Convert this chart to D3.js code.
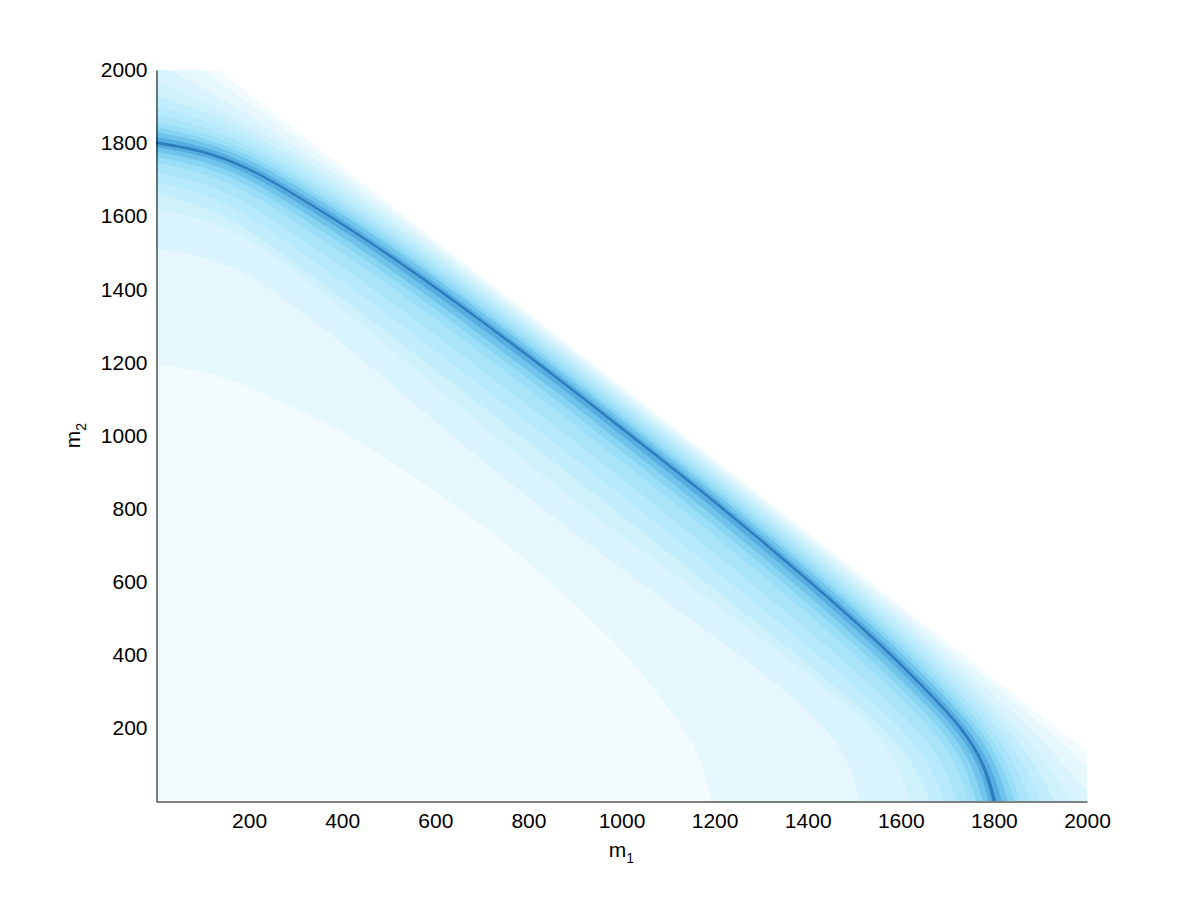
<!DOCTYPE html>
<html><head><meta charset="utf-8">
<script src="https://cdn.jsdelivr.net/npm/d3@7"></script>
<style>body{margin:0;background:#fff} svg{display:block}</style>
</head><body>
<svg id="chart" width="1200" height="900"></svg>
<script>
// tick labels
const xTickValues = [200,400,600,800,1000,1200,1400,1600,1800,2000];
const yTickValues = [200,400,600,800,1000,1200,1400,1600,1800,2000];

// fill colour of each contour level (0 = lowest)
const levelColors = ["#f2fbfe","#e6f8fe","#daf4fd","#cef1fc","#c2edfc","#b6e9fb",
                     "#a9e4f9","#9bdef7","#88d4f3","#70c4ec","#56ade0","#2f7dbb"];

// edge of the defined region (m1 + m2 limit)
const cutoffBoundary = [[0,0],[0,2000],[135,2000],[2000,135],[2000,0]];

// lower-left boundary of each level (levels 1..11), [m1, m2]
const innerBoundaries = [
  [[0,1193],[100,1178],[200,1135],[300,1073],[417,1002],[550,889],[732,732],[889,550],[1002,417],[1073,300],[1135,200],[1178,100],[1193,0]],
  [[0,1510],[100,1494],[200,1442],[300,1352],[417,1236],[550,1091],[700,931],[815,815],[931,700],[1091,550],[1236,417],[1352,300],[1442,200],[1494,100],[1510,0]],
  [[0,1617],[100,1597],[200,1540],[300,1447],[417,1331],[550,1189],[700,1028],[860,860],[1028,700],[1189,550],[1331,417],[1447,300],[1540,200],[1597,100],[1617,0]],
  [[0,1663],[100,1631],[200,1565],[300,1470],[417,1360],[550,1229],[700,1081],[850,932],[891,891],[932,850],[1081,700],[1229,550],[1360,417],[1470,300],[1565,200],[1631,100],[1663,0]],
  [[0,1694],[100,1665],[200,1603],[300,1512],[417,1407],[550,1280],[700,1134],[850,986],[918,918],[986,850],[1134,700],[1280,550],[1407,417],[1512,300],[1603,200],[1665,100],[1694,0]],
  [[0,1721],[100,1694],[200,1636],[300,1549],[417,1448],[550,1323],[700,1179],[850,1033],[942,942],[1033,850],[1179,700],[1323,550],[1448,417],[1549,300],[1636,200],[1694,100],[1721,0]],
  [[0,1746],[100,1722],[200,1667],[300,1584],[417,1487],[550,1366],[700,1224],[850,1079],[964,964],[1079,850],[1224,700],[1366,550],[1487,417],[1584,300],[1667,200],[1722,100],[1746,0]],
  [[0,1762],[100,1739],[200,1686],[300,1606],[417,1511],[550,1392],[700,1251],[850,1107],[978,978],[1107,850],[1251,700],[1392,550],[1511,417],[1606,300],[1686,200],[1739,100],[1762,0]],
  [[0,1776],[100,1754],[200,1703],[300,1624],[417,1530],[550,1413],[700,1273],[850,1129],[990,990],[1129,850],[1273,700],[1413,550],[1530,417],[1624,300],[1703,200],[1754,100],[1776,0]],
  [[0,1789],[100,1768],[200,1718],[300,1641],[417,1549],[550,1432],[700,1293],[850,1150],[1000,1000],[1150,850],[1293,700],[1432,550],[1549,417],[1641,300],[1718,200],[1768,100],[1789,0]],
  [[0,1797],[100,1777],[200,1729],[300,1654],[417,1562],[550,1447],[700,1309],[850,1166],[1008,1008],[1166,850],[1309,700],[1447,550],[1562,417],[1654,300],[1729,200],[1777,100],[1797,0]]
];

// upper-right boundary of each level (levels 1..11), [m1, m2]
const outerBoundaries = [
  [[0,2085],[100,2000],[200,1910],[300,1816],[417,1705],[550,1575],[700,1427],[850,1278],[1064,1064],[1278,850],[1427,700],[1575,550],[1705,417],[1816,300],[1910,200],[2000,100],[2085,0]],
  [[0,2018],[100,1952],[200,1877],[300,1792],[417,1688],[550,1563],[700,1418],[850,1270],[1060,1060],[1270,850],[1418,700],[1563,550],[1688,417],[1792,300],[1877,200],[1952,100],[2018,0]],
  [[0,1968],[100,1916],[200,1851],[300,1771],[417,1671],[550,1550],[700,1406],[850,1260],[1055,1055],[1260,850],[1406,700],[1550,550],[1671,417],[1771,300],[1851,200],[1916,100],[1968,0]],
  [[0,1931],[100,1889],[200,1830],[300,1754],[417,1657],[550,1538],[700,1396],[850,1250],[1050,1050],[1250,850],[1396,700],[1538,550],[1657,417],[1754,300],[1830,200],[1889,100],[1931,0]],
  [[0,1900],[100,1866],[200,1811],[300,1737],[417,1643],[550,1525],[700,1384],[850,1239],[1045,1045],[1239,850],[1384,700],[1525,550],[1643,417],[1737,300],[1811,200],[1866,100],[1900,0]],
  [[0,1877],[100,1847],[200,1795],[300,1722],[417,1629],[550,1512],[700,1372],[850,1228],[1039,1039],[1228,850],[1372,700],[1512,550],[1629,417],[1722,300],[1795,200],[1847,100],[1877,0]],
  [[0,1857],[100,1831],[200,1781],[300,1708],[417,1616],[550,1500],[700,1360],[850,1216],[1033,1033],[1216,850],[1360,700],[1500,550],[1616,417],[1708,300],[1781,200],[1831,100],[1857,0]],
  [[0,1844],[100,1818],[200,1769],[300,1695],[417,1603],[550,1488],[700,1348],[850,1205],[1027,1027],[1205,850],[1348,700],[1488,550],[1603,417],[1695,300],[1769,200],[1818,100],[1844,0]],
  [[0,1830],[100,1807],[200,1758],[300,1684],[417,1592],[550,1477],[700,1338],[850,1194],[1022,1022],[1194,850],[1338,700],[1477,550],[1592,417],[1684,300],[1758,200],[1807,100],[1830,0]],
  [[0,1817],[100,1794],[200,1745],[300,1670],[417,1579],[550,1463],[700,1325],[850,1182],[1016,1016],[1182,850],[1325,700],[1463,550],[1579,417],[1670,300],[1745,200],[1794,100],[1817,0]],
  [[0,1805],[100,1784],[200,1736],[300,1661],[417,1570],[550,1455],[700,1317],[850,1174],[1012,1012],[1174,850],[1317,700],[1455,550],[1570,417],[1661,300],[1736,200],[1784,100],[1805,0]]
];

const FONT = '"Liberation Sans", Arial, Helvetica, sans-serif';
const svg = d3.select('#chart');
const x = d3.scaleLinear().domain([0, 2000]).range([156, 1087]);
const y = d3.scaleLinear().domain([0, 2000]).range([801, 70]);

svg.append('defs').append('clipPath').attr('id', 'plotClip')
  .append('rect')
  .attr('x', x(0)).attr('y', y(2000))
  .attr('width', x(2000) - x(0)).attr('height', y(0) - y(2000));

const plot = svg.append('g').attr('clip-path', 'url(#plotClip)');

const straight = d3.line().x(d => x(d[0])).y(d => y(d[1]));
const smooth = d3.line().x(d => x(d[0])).y(d => y(d[1])).curve(d3.curveBasis);

plot.append('path')
  .attr('d', straight(cutoffBoundary) + 'Z')
  .attr('fill', levelColors[0]);

innerBoundaries.forEach((inner, i) => {
  const outer = outerBoundaries[i].slice().reverse();
  const d = smooth(inner) + smooth(outer).replace(/^M/, 'L') + 'Z';
  plot.append('path').attr('d', d).attr('fill', levelColors[i + 1]);
});

// axes
const fmt = d3.format('d');
const xAxis = d3.axisBottom(x).tickValues(xTickValues).tickFormat(fmt).tickSize(0).tickSizeOuter(0).tickPadding(12);
const yAxis = d3.axisLeft(y).tickValues(yTickValues).tickFormat(fmt).tickSize(0).tickSizeOuter(0).tickPadding(9);

const gx = svg.append('g').attr('transform', `translate(0,${y(0) + 0.5})`).call(xAxis);
const gy = svg.append('g').attr('transform', `translate(${x(0) + 0.5},0)`).call(yAxis);
[gx, gy].forEach(g => {
  g.attr('font-family', FONT).attr('font-size', 21);
  g.select('.domain').attr('stroke', '#000').attr('stroke-width', 1);
  g.selectAll('text').attr('fill', '#000');
});

// axis titles
const xl = svg.append('text')
  .attr('x', (x(0) + x(2000)) / 2).attr('y', 857)
  .attr('text-anchor', 'middle').attr('font-family', FONT).attr('font-size', 21);
xl.append('tspan').text('m');
xl.append('tspan').attr('font-size', 14).attr('dy', 6).text('1');

const yl = svg.append('text')
  .attr('transform', `translate(80,${(y(0) + y(2000)) / 2}) rotate(-90)`)
  .attr('text-anchor', 'middle').attr('font-family', FONT).attr('font-size', 21);
yl.append('tspan').text('m');
yl.append('tspan').attr('font-size', 14).attr('dy', 6).text('2');
</script>
</body></html>
